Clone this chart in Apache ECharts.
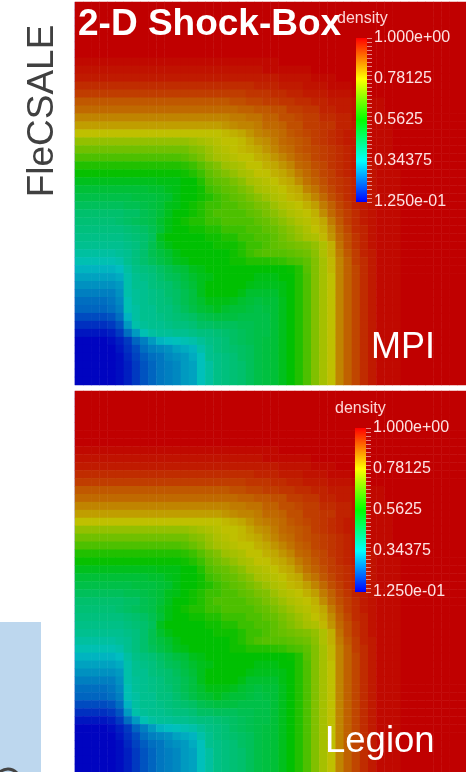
<!DOCTYPE html>
<html><head><meta charset="utf-8">
<script src="https://cdn.jsdelivr.net/npm/echarts@6/dist/echarts.min.js"></script>
<style>html,body{margin:0;padding:0;background:#fff;overflow:hidden}#c{width:466px;height:772px}</style>
</head><body><div id="c"></div>
<script>
// density x 100, rows top to bottom, columns left to right
const densityRows = [
[100,100,100,100,100,100,100,100,100,100,100,100,100,100,100,100,100,100,100,100,100,100,100,100,100,100,100,100,100,100,100,100,100,100,100,100,100,100,100,100,100,100,100,100,100,100,100,100],
[100,100,100,100,100,100,100,100,100,100,100,100,100,100,100,100,100,100,100,100,100,100,100,100,100,100,100,100,100,100,100,100,100,100,100,100,100,100,100,100,100,100,100,100,100,100,100,100],
[100,100,100,100,100,100,100,100,100,100,100,100,100,100,100,100,100,100,100,100,100,100,100,100,100,100,100,100,100,100,100,100,100,100,100,100,100,100,100,100,100,100,100,100,100,100,100,100],
[100,100,100,100,100,100,100,100,100,100,100,100,100,100,100,100,100,100,100,100,100,100,100,100,100,100,100,100,100,100,100,100,100,100,100,100,100,100,100,100,100,100,100,100,100,100,100,100],
[100,100,100,100,100,100,100,100,100,100,100,100,100,100,100,100,100,100,100,100,100,100,100,100,100,100,100,100,100,100,100,100,100,100,100,100,100,100,100,100,100,100,100,100,100,100,100,100],
[100,100,100,100,100,100,100,100,100,100,100,100,100,100,100,100,100,100,100,100,100,100,100,100,100,100,100,100,100,100,100,100,100,100,100,100,100,100,100,100,100,100,100,100,100,100,100,100],
[100,100,100,100,100,100,100,100,100,100,100,100,100,100,100,100,100,100,100,100,100,100,100,100,100,100,100,100,100,100,100,100,100,100,100,100,100,100,100,100,100,100,100,100,100,100,100,100],
[99,99,99,99,99,99,99,99,99,99,99,99,99,99,99,99,99,99,99,99,99,99,99,99,99,100,100,100,100,100,100,100,100,100,100,100,100,100,100,100,100,100,100,100,100,100,100,100],
[98,98,98,98,98,98,98,98,98,98,98,98,98,98,98,98,98,98,98,98,98,98,98,99,99,99,99,99,99,100,100,100,100,100,100,100,100,100,100,100,100,100,100,100,100,100,100,100],
[97,97,97,97,97,97,97,97,97,97,97,97,97,97,97,97,97,97,97,97,97,97,97,97,97,98,98,98,98,99,99,99,100,100,100,100,100,100,100,100,100,100,100,100,100,100,100,100],
[95,95,95,95,95,95,95,95,95,95,95,95,95,95,95,95,95,95,95,95,95,95,96,96,96,97,97,97,98,98,98,99,99,99,100,100,100,100,100,100,100,100,100,100,100,100,100,100],
[93,93,93,93,93,93,93,93,93,93,93,93,93,93,93,93,93,93,93,93,93,94,94,94,95,95,96,96,97,97,97,98,98,98,99,99,100,100,100,100,100,100,100,100,100,100,100,100],
[90,90,90,90,90,90,90,90,90,90,90,90,90,90,90,90,90,90,90,91,91,92,92,93,93,94,94,95,95,96,96,97,97,97,98,98,99,99,100,100,100,100,100,100,100,100,100,100],
[88,88,88,88,88,88,88,88,88,88,88,88,88,88,88,88,88,88,88,88,89,89,90,90,91,91,93,93,94,94,96,96,97,97,98,98,99,99,100,100,100,100,100,100,100,100,100,100],
[85,85,85,85,85,85,85,85,85,85,85,85,85,85,85,85,85,85,85,86,86,87,87,89,89,91,91,92,93,93,95,95,96,96,98,98,99,99,99,100,100,100,100,100,100,100,100,100],
[82,82,82,82,82,82,82,82,82,82,82,82,82,82,82,82,82,82,83,84,85,85,86,88,88,89,91,91,93,93,94,94,96,96,97,97,99,99,99,100,100,100,100,100,100,100,100,100],
[78,78,78,78,78,78,78,78,78,78,78,78,78,78,78,78,78,78,79,80,81,83,85,86,87,88,90,91,92,93,94,95,96,97,97,98,99,99,99,100,100,100,100,100,100,100,100,100],
[73,73,73,73,73,73,73,73,73,73,73,73,73,73,74,75,76,77,78,78,79,81,83,84,86,88,89,90,91,93,94,95,96,97,97,98,99,99,99,100,100,100,100,100,100,100,100,100],
[69,69,69,69,69,69,69,69,69,69,69,69,69,69,71,72,74,76,77,78,79,80,81,83,85,87,88,90,91,92,93,94,95,96,97,98,99,99,99,100,100,100,100,100,100,100,100,100],
[65,65,65,65,65,65,65,65,65,65,65,65,65,66,68,70,73,75,76,77,78,78,80,81,83,85,87,89,90,92,93,94,95,96,97,98,99,99,99,100,100,100,100,100,100,100,100,100],
[60,60,60,60,60,60,60,60,60,60,60,60,60,61,63,66,69,71,74,75,76,78,78,80,81,83,85,88,89,91,92,94,95,96,97,97,98,99,99,100,100,100,100,100,100,100,100,100],
[57,57,57,57,57,57,57,57,57,57,57,57,57,58,60,63,67,69,71,73,75,76,78,78,80,81,83,86,88,90,92,93,95,96,97,97,98,99,99,99,100,100,100,100,100,100,100,100],
[53,53,53,53,53,53,53,53,53,53,54,54,54,56,56,60,65,67,68,70,72,75,76,77,78,80,81,84,87,89,91,93,94,95,96,97,98,99,99,99,100,100,100,100,100,100,100,100],
[50,50,50,50,50,50,50,50,50,51,51,53,54,56,56,58,63,65,67,68,70,72,75,76,77,78,80,81,85,87,90,92,94,95,96,97,98,99,99,99,100,100,100,100,100,100,100,100],
[48,48,48,48,48,48,48,49,49,49,50,51,54,56,56,58,60,63,65,67,68,70,72,74,76,77,79,80,82,85,88,91,93,95,96,97,98,99,99,99,100,100,100,100,100,100,100,100],
[46,46,46,46,46,46,47,47,48,49,50,53,54,56,58,60,63,63,65,65,67,68,70,71,74,76,77,78,80,82,86,89,92,94,96,97,98,99,99,99,100,100,100,100,100,100,100,100],
[44,44,44,44,44,44,45,45,47,48,50,53,56,56,58,60,63,65,65,65,65,67,68,70,72,74,76,77,78,80,84,88,91,93,95,97,98,99,99,99,100,100,100,100,100,100,100,100],
[43,43,43,43,43,44,45,46,47,48,51,54,56,58,60,60,63,63,65,65,65,65,67,68,70,72,74,76,77,79,81,86,90,93,95,97,98,99,99,99,100,100,100,100,100,100,100,100],
[42,42,42,42,42,42,43,44,45,47,50,54,56,56,58,58,60,60,63,63,63,65,65,67,68,70,72,74,76,78,80,84,89,92,95,96,98,99,99,99,100,100,100,100,100,100,100,100],
[41,41,41,41,41,41,42,43,44,46,53,56,56,56,56,56,58,58,60,60,63,63,65,65,67,69,71,73,75,76,79,83,88,91,94,96,98,99,99,99,100,100,100,100,100,100,100,100],
[40,40,40,40,40,40,41,42,44,47,51,54,56,56,56,56,56,58,58,58,60,63,63,65,67,68,69,70,71,73,76,80,87,91,94,96,98,99,99,99,100,100,100,100,100,100,100,100],
[38,38,38,38,38,39,40,42,44,47,49,51,54,56,56,56,56,56,56,58,60,63,65,66,66,66,67,68,69,72,76,80,86,90,93,96,97,99,99,99,100,100,100,100,100,100,100,100],
[36,36,36,36,36,37,40,42,44,46,48,50,53,54,56,56,56,56,56,58,58,60,60,60,61,62,64,65,67,71,75,79,85,89,93,95,97,99,99,99,100,100,100,100,100,100,100,100],
[33,33,33,33,33,34,38,41,42,43,45,47,49,50,53,54,56,56,56,56,56,56,56,56,56,56,57,60,66,71,75,79,85,89,92,95,97,99,99,99,100,100,100,100,100,100,100,100],
[31,31,31,31,31,32,37,40,41,42,44,46,47,49,51,53,54,56,56,56,56,56,54,54,54,56,56,60,65,71,75,78,85,89,92,95,97,99,99,99,100,100,100,100,100,100,100,100],
[29,29,29,29,29,30,37,40,40,42,43,44,46,48,50,53,56,56,56,56,56,54,53,53,53,54,56,60,65,71,75,78,85,89,92,95,97,99,99,99,100,100,100,100,100,100,100,100],
[27,27,27,27,27,29,37,39,40,41,42,44,45,47,49,53,56,56,56,56,54,51,51,51,51,54,56,60,65,71,75,78,85,89,92,95,97,99,99,99,100,100,100,100,100,100,100,100],
[25,25,25,25,26,28,36,39,40,41,42,43,45,47,49,51,54,54,54,53,51,50,49,50,50,53,56,60,65,71,75,78,85,89,92,95,97,99,99,99,100,100,100,100,100,100,100,100],
[24,24,24,24,25,27,36,38,40,40,42,42,44,46,48,50,51,53,51,50,50,49,48,49,50,53,56,60,65,71,75,78,85,89,92,95,97,99,99,99,100,100,100,100,100,100,100,100],
[21,21,21,21,22,25,33,38,40,40,41,42,43,44,45,47,48,49,49,49,48,48,48,48,50,53,56,60,65,71,75,78,85,89,92,95,97,99,99,99,100,100,100,100,100,100,100,100],
[18,18,18,18,19,22,30,37,39,40,40,41,42,42,43,45,45,46,46,46,47,47,48,48,50,53,56,60,65,71,75,78,85,89,92,95,97,99,99,99,100,100,100,100,100,100,100,100],
[15,15,15,15,16,19,25,30,36,38,39,39,40,40,41,42,42,43,44,45,46,47,48,48,50,53,56,60,65,71,75,78,85,89,92,95,97,99,99,99,100,100,100,100,100,100,100,100],
[13,13,13,13,14,16,19,24,27,30,33,34,35,36,37,39,41,42,43,45,46,47,48,49,50,53,56,60,65,71,75,78,85,89,92,95,97,99,99,99,100,100,100,100,100,100,100,100],
[13,13,13,13,13,15,18,21,25,27,28,29,31,32,33,37,40,42,43,44,45,46,48,49,50,53,56,60,65,71,75,78,85,89,92,95,97,99,99,99,100,100,100,100,100,100,100,100],
[13,13,13,13,13,14,17,20,23,25,26,28,29,30,32,35,40,41,42,43,45,46,48,49,50,53,56,60,65,71,75,78,85,89,92,95,97,99,99,99,100,100,100,100,100,100,100,100],
[13,13,13,13,13,14,16,19,22,24,26,27,28,30,31,35,38,41,42,43,44,46,48,49,50,53,56,60,65,71,75,78,85,89,92,95,97,99,99,99,100,100,100,100,100,100,100,100],
[13,13,13,13,13,14,16,19,22,24,26,27,28,30,31,35,38,41,42,43,44,46,48,49,50,53,56,60,65,71,75,78,85,89,92,95,97,99,99,99,100,100,100,100,100,100,100,100],
[13,13,13,13,13,14,16,19,22,24,26,27,28,30,31,35,38,41,42,43,44,46,48,49,50,53,56,60,65,71,75,78,85,89,92,95,97,99,99,99,100,100,100,100,100,100,100,100]
];
const scaleValues = [1, 0.78125, 0.5625, 0.34375, 0.125];
const scaleLabels = ['1.000e+00', '0.78125', '0.5625', '0.34375', '1.250e-01'];
const panelColors = ['#0000c0', '#00c0c0', '#00c000', '#c0c000', '#c00000'];
const barColors = ['#ff0000', '#ffff00', '#00ff00', '#00ffff', '#0000ff'];
const panelTitles = ['MPI', 'Legion'];

const sans = '"Liberation Sans", Arial, sans-serif';
const tickList = [];
for (let i = 0; i <= 40; i++) tickList.push(0.125 + (i * 0.875) / 40);

const cols = densityRows[0].map((_, i) => i);
const rows = densityRows.map((_, i) => i);
const cells = [];
densityRows.forEach((row, r) => row.forEach((v, c) => cells.push([c, densityRows.length - 1 - r, v / 100])));

const panels = [
  { top: 2, height: 383, barTop: 38, barLeft: 356 },
  { top: 391, height: 390, barTop: 428, barLeft: 355 }
];
const grid = [], xAxis = [], yAxis = [], series = [];
panels.forEach((p, k) => {
  grid.push({ left: 75, top: p.top, width: 391, height: p.height });
  xAxis.push({ type: 'category', gridIndex: 2 * k, data: cols, show: false });
  yAxis.push({ type: 'category', gridIndex: 2 * k, data: rows, show: false });
  series.push({ type: 'heatmap', xAxisIndex: 2 * k, yAxisIndex: 2 * k, data: cells, progressive: 0, animation: false, name: panelTitles[k] });

  grid.push({ left: p.barLeft, top: p.barTop, width: 11, height: 164 });
  xAxis.push({ type: 'category', gridIndex: 2 * k + 1, data: ['density'], show: false });
  yAxis.push({
    type: 'value', gridIndex: 2 * k + 1, position: 'right', min: 0.125, max: 1, z: 20,
    axisLine: { show: false }, splitLine: { show: false },
    axisTick: { show: true, length: 5, customValues: tickList, lineStyle: { color: 'rgba(255,225,225,0.6)', width: 1 } },
    axisLabel: {
      show: true, customValues: scaleValues, margin: 7, color: 'rgba(255,238,238,0.95)', fontFamily: sans, fontSize: 16,
      padding: [0, 0, 3, 0],
      formatter: v => scaleLabels[scaleValues.findIndex(s => Math.abs(s - v) < 1e-6)] || ''
    }
  });
  series.push({
    type: 'bar', xAxisIndex: 2 * k + 1, yAxisIndex: 2 * k + 1, barWidth: '100%', data: [1], animation: false, silent: true, z: 10,
    itemStyle: { color: new echarts.graphic.LinearGradient(0, 0, 0, 1, barColors.map((c, i) => ({ offset: i / 4, color: c }))) }
  });
});

const txt = (o) => ({ type: 'text', z: 100, ...o });
const chart = echarts.init(document.getElementById('c'), null, { renderer: 'canvas' });
chart.setOption({
  backgroundColor: '#ffffff',
  animation: false,
  grid, xAxis, yAxis, series,
  visualMap: { show: false, seriesIndex: [0, 2], min: 0.125, max: 1, inRange: { color: panelColors } },
  graphic: [
    { type: 'rect', shape: { x: 0, y: 622, width: 41, height: 150 }, style: { fill: '#bdd7ee' }, z: 1 },
    { type: 'circle', shape: { cx: 8, cy: 781, r: 12 }, style: { fill: 'none', stroke: '#444444', lineWidth: 3 }, z: 2 },
    { type: 'rect', shape: { x: 74, y: 2, width: 1, height: 383 }, style: { fill: '#d4d4f2' }, z: 1 },
    { type: 'rect', shape: { x: 74, y: 391, width: 1, height: 381 }, style: { fill: '#d4d4f2' }, z: 1 },
    txt({ x: 43, y: 111, rotation: Math.PI / 2, style: { text: 'FleCSALE', font: '37px ' + sans, fill: '#404040', align: 'center', verticalAlign: 'middle' } }),
    txt({ x: 78, y: 25, style: { text: '2-D Shock-Box', font: 'bold 37px ' + sans, fill: '#ffffff', align: 'left', verticalAlign: 'middle' } }),
    txt({ x: 337, y: 19, style: { text: 'density', font: '16px ' + sans, fill: 'rgba(255,225,225,0.95)', align: 'left', verticalAlign: 'middle' } }),
    txt({ x: 335, y: 409, style: { text: 'density', font: '16px ' + sans, fill: 'rgba(255,225,225,0.95)', align: 'left', verticalAlign: 'middle' } }),
    txt({ x: 371, y: 348, style: { text: panelTitles[0], font: '36px ' + sans, fill: '#ffffff', align: 'left', verticalAlign: 'middle' } }),
    txt({ x: 325, y: 742, style: { text: panelTitles[1], font: '36.5px ' + sans, fill: '#ffffff', align: 'left', verticalAlign: 'middle' } })
  ]
});
</script>
</body></html>
